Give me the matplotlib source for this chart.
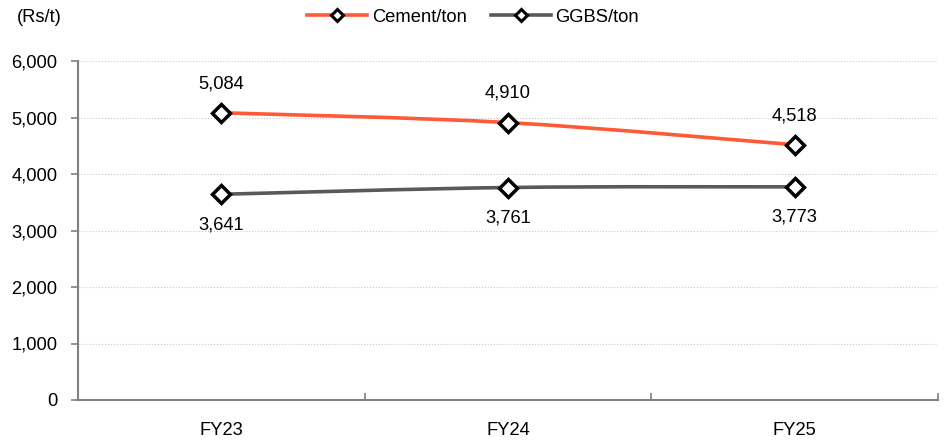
import matplotlib
matplotlib.use("Agg")
import matplotlib.pyplot as plt
from matplotlib.path import Path
from matplotlib.patches import PathPatch
from matplotlib.lines import Line2D

categories = ["FY23", "FY24", "FY25"]
cement = [5084, 4910, 4518]
ggbs = [3641, 3761, 3773]
yticks = [0, 1000, 2000, 3000, 4000, 5000, 6000]

plt.rcParams['font.family'] = ['Liberation Sans', 'DejaVu Sans']
FS = 13.2

fig = plt.figure(figsize=(9.51, 4.41), dpi=100)
ax = fig.add_axes([78/951, 1-400/441, (938-78)/951, (400-61)/441])

x = list(range(len(categories)))

def smooth_path(xs, ys, t=1/6):
    verts = [(xs[0], ys[0])]
    codes = [Path.MOVETO]
    n = len(xs)
    for i in range(n - 1):
        x0, y0 = (xs[i-1], ys[i-1]) if i > 0 else (xs[i], ys[i])
        x1, y1 = xs[i], ys[i]
        x2, y2 = xs[i+1], ys[i+1]
        x3, y3 = (xs[i+2], ys[i+2]) if i + 2 < n else (xs[i+1], ys[i+1])
        c1 = (x1 + (x2 - x0) * t, y1 + (y2 - y0) * t)
        c2 = (x2 - (x3 - x1) * t, y2 - (y3 - y1) * t)
        verts += [c1, c2, (x2, y2)]
        codes += [Path.CURVE4] * 3
    return Path(verts, codes)

orange = "#FF5A36"
grey = "#595959"
for vals, col in [(cement, orange), (ggbs, grey)]:
    ax.add_patch(PathPatch(smooth_path(x, vals), facecolor="none", edgecolor=col, lw=2.6, zorder=2))
    ax.plot(x, vals, ls="none", marker="D", ms=9, mfc="white", mec="black", mew=2.5, zorder=3)

for xi, v in zip(x, cement):
    ax.annotate(f"{v:,}", (xi, v), xytext=(0, 21), textcoords="offset points",
                ha="center", va="center", fontsize=FS)
for xi, v in zip(x, ggbs):
    ax.annotate(f"{v:,}", (xi, v), xytext=(0, -22), textcoords="offset points",
                ha="center", va="center", fontsize=FS)

ax.set_xlim(-0.5, len(categories) - 0.5)
ax.set_ylim(0, 6000)
ax.set_yticks(yticks)
ax.set_yticklabels([f"{v:,}" for v in yticks], fontsize=FS)
ax.set_xticks(x)
ax.set_xticklabels(categories, fontsize=FS)
ax.tick_params(axis="x", length=0, pad=16)
ax.set_xticks([-0.5, 0.5, 1.5, 2.5], minor=True)
ax.tick_params(axis="x", which="minor", length=5, color="#808080", width=1.2, direction="in")
ax.tick_params(axis="y", length=5, color="#808080", width=1.2, pad=10)
ax.grid(axis="y", color="#C8C8C8", ls=":", lw=0.8)
ax.set_axisbelow(True)
for s in ["top", "right"]:
    ax.spines[s].set_visible(False)
for s in ["left", "bottom"]:
    ax.spines[s].set_color("#808080")
    ax.spines[s].set_linewidth(1.5)

fig.text(39/951, 1-17/441, "(Rs/t)", ha="center", va="center", fontsize=FS)

handles = [Line2D([], [], color=orange, lw=2.6, marker="D", ms=6, mfc="white", mec="black", mew=2.2),
           Line2D([], [], color=grey, lw=2.6, marker="D", ms=6, mfc="white", mec="black", mew=2.2)]
fig.legend(handles, ["Cement/ton", "GGBS/ton"], loc="center", bbox_to_anchor=(473/951, 1-17/441),
           ncol=2, frameon=False, fontsize=FS, handlelength=3.3, columnspacing=1.3, handletextpad=0.25)

fig.savefig("out.png", dpi=100)
